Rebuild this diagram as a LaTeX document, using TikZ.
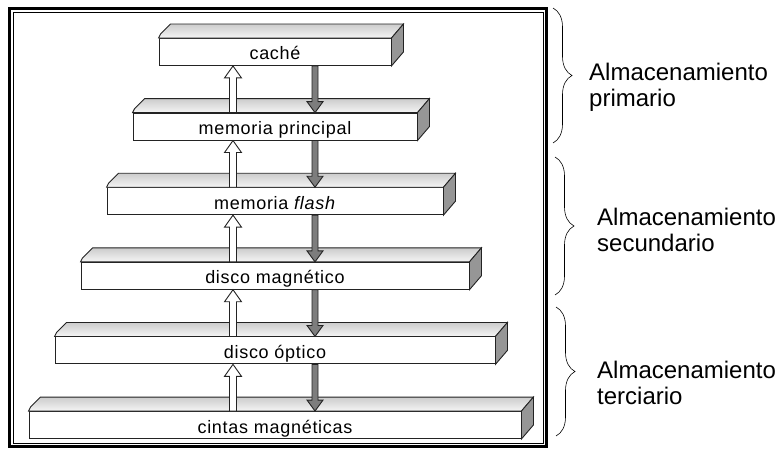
\documentclass[tikz,border=0pt]{standalone}
\usepackage{fontspec}
\setmainfont{Liberation Sans}
\newfontfamily\etiqueta[LetterSpace=4]{Liberation Sans}
\usetikzlibrary{calc,decorations.pathreplacing}
\definecolor{borde}{RGB}{35,35,35}
\definecolor{lateral}{RGB}{150,150,150}
\definecolor{flecha}{RGB}{125,125,125}

\tikzset{
  caja/.style={draw=borde, line width=0.9pt, fill=white, minimum height=27pt, inner sep=0pt,
    font=\etiqueta\fontsize{18}{20}\selectfont, text height=18pt, text depth=2pt},
  cara/.style={draw=borde, line width=0.9pt, top color=black!20, bottom color=black!4},
  lado/.style={draw=borde, line width=0.9pt, fill=lateral},
  sube/.style={draw=borde, line width=0.9pt, fill=white},
  baja/.style={draw=borde, line width=0.9pt, fill=flecha},
  llave/.style={decorate, decoration={brace, amplitude=19pt}, line width=0.6pt},
  nivel/.style={anchor=base west, inner sep=0pt, font=\fontsize{24}{28}\selectfont}
}

\begin{document}
\begin{tikzpicture}[x=1pt, y=-1pt]
    \useasboundingbox (0,0) rectangle (775,449);
    % marco doble
    \draw[line width=3pt] (9.5,8.5) rectangle (546.5,446.5);
    \draw[line width=0.8pt] (13,12) rectangle (543,443);
    % niveles de la jerarquia
    \foreach \n/\i/\txt in {cache/0/{caché}, principal/1/{memoria principal}, flash/2/{memoria \textit{flash}},
        disco/3/{disco magnético}, optico/4/{disco óptico}, cintas/5/{cintas magnéticas}} {
      \node[caja, minimum width={(232+52*\i)*1pt}] (\n) at (275,{52+74.6*\i}) {\txt};
      \draw[cara] (\n.north west) -- ++(2,-4) -- ++(10,-10) -- ($(\n.north east)+(12,-14)$) -- (\n.north east) -- cycle;
      \draw[lado] (\n.north east) -- ++(12,-14) -- ($(\n.south east)+(12,-14)$) -- (\n.south east) -- cycle;
    }
    \coordinate (ejesube) at (233,0);
    \coordinate (ejebaja) at (315,0);
    \foreach \a/\b in {cache/principal, principal/flash, flash/disco, disco/optico, optico/cintas} {
      \draw[sube] ($(ejesube |- \b.north)+(-3.5,0)$) -- ($(ejesube |- \a.south)+(-3.5,12)$) -- ++(-5,0)
        -- (ejesube |- \a.south) -- ($(ejesube |- \a.south)+(8.5,12)$) -- ++(-5,0)
        -- ($(ejesube |- \b.north)+(3.5,0)$) -- cycle;
      \draw[baja] ($(ejebaja |- \a.south)+(-3,0)$) -- ($(ejebaja |- \b.north)+(-3,-11)$) -- ++(-5,0)
        -- (ejebaja |- \b.north) -- ($(ejebaja |- \b.north)+(8,-11)$) -- ++(-5,0)
        -- ($(ejebaja |- \a.south)+(3,0)$) -- cycle;
    }
    % llaves y rotulos
    \draw[llave] (553,8) -- (553,143);
    \draw[llave] (555,157) -- (555,295);
    \draw[llave] (556,307) -- (556,436);
    \foreach \n/\x/\y/\l/\m in {prim/589/81/Almacenamiento/primario, secu/597/225/Almacenamiento/secundario,
        terc/597/378/Almacenamiento/terciario} {
      \node[nivel] (\n-1) at (\x,\y) {\l};
      \node[nivel] (\n-2) at (\x,\y+26) {\m};
    }
\end{tikzpicture}
\end{document}
